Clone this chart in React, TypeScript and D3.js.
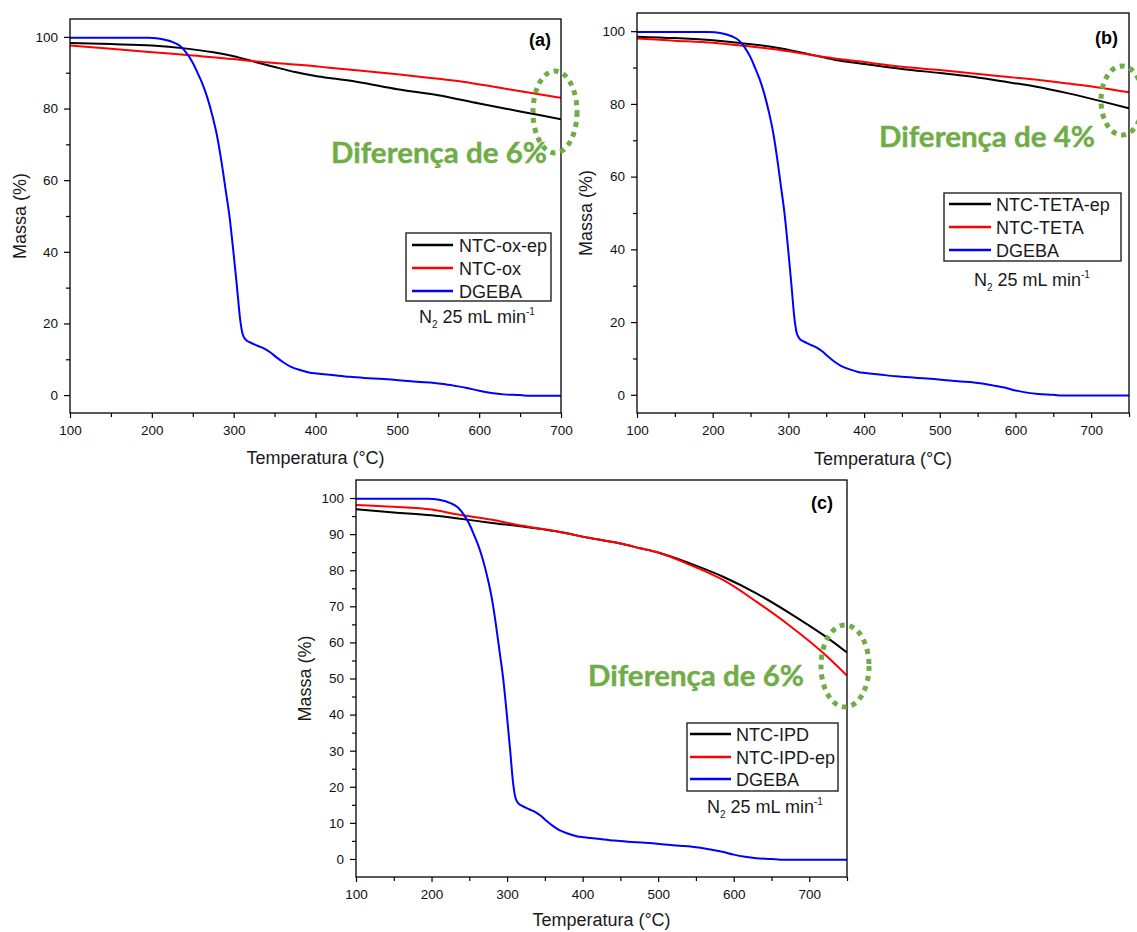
import React, { useEffect, useRef } from "react";
import * as d3 from "d3";

type Pt = [number, number];

// DGEBA resin — the same TGA run is plotted in all three panels
const dgeba: Pt[] = [
  [100, 99.8], [150, 99.8], [195, 99.8], [210, 99.5], [225, 98.6], [235, 97.4],
  [242, 95.6], [250, 92.8], [256, 89.9], [262, 86.8], [268, 82.9], [274, 78.0],
  [280, 72.0], [285, 65.3], [290, 57.6], [295, 49.7], [300, 39.3], [304, 30.3],
  [308, 21.0], [311, 17.0], [315, 15.4], [320, 14.7], [330, 13.7], [338, 12.9],
  [345, 11.9], [352, 10.6], [361, 9.1], [370, 7.9], [381, 7.0], [392, 6.3],
  [402, 6.0], [420, 5.6], [442, 5.1], [460, 4.8], [483, 4.5], [505, 4.1],
  [524, 3.7], [545, 3.4], [556, 3.1], [570, 2.6], [585, 2.0], [600, 1.2],
  [615, 0.6], [630, 0.2], [650, 0.0], [662, -0.2], [700, -0.2], [750, -0.2],
];

// (a) oxidized nanotubes
const ntcOxEp: Pt[] = [
  [100, 98.3], [150, 98.0], [200, 97.6], [240, 96.8], [275, 95.7], [300, 94.6],
  [325, 93.1], [350, 91.6], [375, 90.2], [400, 89.1], [425, 88.3], [450, 87.5],
  [500, 85.4], [550, 83.7], [600, 81.4], [650, 79.2], [700, 77.0],
];
const ntcOx: Pt[] = [
  [100, 97.6], [150, 96.7], [213, 95.5], [250, 94.8], [300, 93.8], [324, 93.2],
  [350, 92.7], [400, 91.8], [417, 91.4], [450, 90.7], [500, 89.6], [550, 88.3],
  [580, 87.5], [620, 86.0], [662, 84.4], [700, 83.0],
];

// (b) TETA-functionalized nanotubes
const ntcTetaEp: Pt[] = [
  [100, 98.5], [150, 98.1], [200, 97.5], [230, 96.9], [283, 95.5], [320, 94.0],
  [362, 92.1], [400, 91.0], [450, 89.6], [500, 88.5], [538, 87.6], [580, 86.3],
  [626, 84.8], [670, 82.9], [714, 80.7], [750, 78.8],
];
const ntcTeta: Pt[] = [
  [100, 98.0], [150, 97.4], [200, 96.8], [230, 96.2], [280, 95.1], [345, 93.0],
  [400, 91.5], [450, 90.2], [500, 89.3], [538, 88.5], [580, 87.6], [626, 86.7],
  [670, 85.6], [714, 84.4], [750, 83.2],
];

// (c) IPD-functionalized nanotubes
const ntcIpd: Pt[] = [
  [100, 96.9], [150, 96.0], [200, 95.2], [233, 94.4], [280, 93.1], [321, 92.1],
  [365, 90.8], [410, 88.9], [450, 87.4], [476, 86.1], [500, 84.9], [542, 81.9],
  [586, 78.2], [630, 73.6], [675, 68.0], [719, 62.0], [750, 57.2],
];
const ntcIpdEp: Pt[] = [
  [100, 98.1], [150, 97.6], [200, 96.8], [233, 95.5], [280, 94.0], [321, 92.3],
  [365, 90.8], [410, 88.9], [450, 87.4], [476, 86.1], [500, 84.9], [542, 81.5],
  [586, 77.3], [630, 71.3], [675, 64.5], [719, 57.0], [750, 50.8],
];

const legendA = ["NTC-ox-ep", "NTC-ox", "DGEBA"];
const legendB = ["NTC-TETA-ep", "NTC-TETA", "DGEBA"];
const legendC = ["NTC-IPD", "NTC-IPD-ep", "DGEBA"];

const xMajor = [100, 200, 300, 400, 500, 600, 700];
const yMajorCoarse = [0, 20, 40, 60, 80, 100];
const yMajorFine = [0, 10, 20, 30, 40, 50, 60, 70, 80, 90, 100];

const SERIES_COLORS = ["#000000", "#ff0000", "#0000ff"];
const GREEN = "#70AD47";
const FONT = "'Liberation Sans', Arial, sans-serif";

interface PanelSpec {
  tag: string;
  left: number;
  right: number;
  top: number;
  bottom: number;
  xMax: number;
  yMajor: number[];
  yStep: number;
  series: Pt[][];
  legend: string[];
  legendBox: { x: number; y: number; w: number; h: number };
  legendRows: number[];
  legendLine: [number, number];
  legendTextX: number;
  gasX: number;
  gasY: number;
  xTitleY: number;
  yTitleX: number;
  tagX: number;
  tagY: number;
  note: string;
  noteX: number;
  noteY: number;
  ring: { cx: number; cy: number; rx: number; ry: number };
}

const panels: PanelSpec[] = [
  {
    tag: "(a)", left: 70, right: 561, top: 19, bottom: 413, xMax: 700,
    yMajor: yMajorCoarse, yStep: 20,
    series: [ntcOxEp, ntcOx, dgeba], legend: legendA,
    legendBox: { x: 406, y: 233, w: 145, h: 68 }, legendRows: [245, 268, 291],
    legendLine: [412, 453], legendTextX: 459, gasX: 419, gasY: 323,
    xTitleY: 464, yTitleX: 26, tagX: 551, tagY: 46,
    note: "Diferença de 6%", noteX: 331, noteY: 163,
    ring: { cx: 555, cy: 112, rx: 22, ry: 41 },
  },
  {
    tag: "(b)", left: 637, right: 1129, top: 13, bottom: 413, xMax: 750,
    yMajor: yMajorCoarse, yStep: 20,
    series: [ntcTetaEp, ntcTeta, dgeba], legend: legendB,
    legendBox: { x: 944, y: 193, w: 177, h: 68 }, legendRows: [204, 227, 250],
    legendLine: [949, 991], legendTextX: 996, gasX: 974, gasY: 286,
    xTitleY: 465, yTitleX: 592, tagX: 1118, tagY: 44,
    note: "Diferença de 4%", noteX: 879, noteY: 147,
    ring: { cx: 1122, cy: 100.5, rx: 21, ry: 34.5 },
  },
  {
    tag: "(c)", left: 356, right: 847, top: 480, bottom: 877, xMax: 750,
    yMajor: yMajorFine, yStep: 10,
    series: [ntcIpd, ntcIpdEp, dgeba], legend: legendC,
    legendBox: { x: 687, y: 723, w: 151, h: 68 }, legendRows: [734, 757, 779],
    legendLine: [690, 731], legendTextX: 736, gasX: 707, gasY: 813,
    xTitleY: 926, yTitleX: 311, tagX: 833, tagY: 509,
    note: "Diferença de 6%", noteX: 588, noteY: 686,
    ring: { cx: 845, cy: 666, rx: 24, ry: 41 },
  },
];

function drawPanel(
  root: d3.Selection<SVGSVGElement, unknown, null, undefined>,
  p: PanelSpec,
  idx: number
) {
  const x = d3.scaleLinear().domain([100, p.xMax]).range([p.left, p.right]);
  const y = d3.scaleLinear().domain([-5, 105]).range([p.bottom, p.top]);
  const g = root.append("g");

  const clipId = `plot-clip-${idx}`;
  root
    .append("defs")
    .append("clipPath")
    .attr("id", clipId)
    .append("rect")
    .attr("x", p.left)
    .attr("y", p.top)
    .attr("width", p.right - p.left)
    .attr("height", p.bottom - p.top);

  const line = d3
    .line<Pt>()
    .x((d) => x(d[0]))
    .y((d) => y(d[1]))
    .curve(d3.curveMonotoneX);

  const curves = g.append("g").attr("clip-path", `url(#${clipId})`);
  p.series.forEach((s, i) => {
    curves
      .append("path")
      .attr("d", line(s.filter((d) => d[0] <= p.xMax)) ?? "")
      .attr("fill", "none")
      .attr("stroke", SERIES_COLORS[i])
      .attr("stroke-width", 2)
      .attr("stroke-linejoin", "round");
  });

  // axes: majors with labels, minors without
  const xMinor = d3.range(150, p.xMax + 1, 100);
  const yMinor = d3.range(p.yStep / 2, 100, p.yStep);

  const styleAxis = (sel: d3.Selection<SVGGElement, unknown, null, undefined>) => {
    sel.select(".domain").remove();
    sel.selectAll("line").attr("stroke", "#000").attr("stroke-width", 1.2);
    sel
      .selectAll("text")
      .attr("font-family", FONT)
      .attr("font-size", 13.5)
      .attr("fill", "#111");
  };

  g.append("g")
    .attr("transform", `translate(0,${p.bottom})`)
    .call(d3.axisBottom(x).tickValues(xMajor).tickSize(5).tickPadding(7).tickFormat(d3.format("d")))
    .call(styleAxis);
  g.append("g")
    .attr("transform", `translate(0,${p.bottom})`)
    .call(d3.axisBottom(x).tickValues(xMinor).tickSize(4).tickFormat(() => ""))
    .call(styleAxis);
  g.append("g")
    .attr("transform", `translate(${p.left},0)`)
    .call(d3.axisLeft(y).tickValues(p.yMajor).tickSize(6).tickPadding(6).tickFormat(d3.format("d")))
    .call(styleAxis);
  g.append("g")
    .attr("transform", `translate(${p.left},0)`)
    .call(d3.axisLeft(y).tickValues(yMinor).tickSize(4).tickFormat(() => ""))
    .call(styleAxis);

  g.append("rect")
    .attr("x", p.left)
    .attr("y", p.top)
    .attr("width", p.right - p.left)
    .attr("height", p.bottom - p.top)
    .attr("fill", "none")
    .attr("stroke", "#000")
    .attr("stroke-width", 1.3);

  // axis titles
  g.append("text")
    .attr("x", (p.left + p.right) / 2)
    .attr("y", p.xTitleY)
    .attr("text-anchor", "middle")
    .attr("font-family", FONT)
    .attr("font-size", 18)
    .attr("fill", "#1a1a1a")
    .text("Temperatura (°C)");
  g.append("text")
    .attr("transform", `translate(${p.yTitleX},${(p.top + p.bottom) / 2}) rotate(-90)`)
    .attr("text-anchor", "middle")
    .attr("font-family", FONT)
    .attr("font-size", 18)
    .attr("fill", "#1a1a1a")
    .text("Massa (%)");

  // panel tag
  g.append("text")
    .attr("x", p.tagX)
    .attr("y", p.tagY)
    .attr("text-anchor", "end")
    .attr("font-family", FONT)
    .attr("font-weight", "bold")
    .attr("font-size", 18)
    .attr("fill", "#000")
    .text(p.tag);

  // legend
  const lb = p.legendBox;
  g.append("rect")
    .attr("x", lb.x)
    .attr("y", lb.y)
    .attr("width", lb.w)
    .attr("height", lb.h)
    .attr("fill", "#fff")
    .attr("stroke", "#222")
    .attr("stroke-width", 1.4);
  p.legend.forEach((name, i) => {
    const ry = p.legendRows[i];
    g.append("line")
      .attr("x1", p.legendLine[0])
      .attr("x2", p.legendLine[1])
      .attr("y1", ry)
      .attr("y2", ry)
      .attr("stroke", SERIES_COLORS[i])
      .attr("stroke-width", 2.5);
    g.append("text")
      .attr("x", p.legendTextX)
      .attr("y", ry + 6.5)
      .attr("font-family", FONT)
      .attr("font-size", 18)
      .attr("fill", "#1a1a1a")
      .text(name);
  });

  // purge gas note
  const gas = g
    .append("text")
    .attr("x", p.gasX)
    .attr("y", p.gasY)
    .attr("font-family", FONT)
    .attr("font-size", 18)
    .attr("fill", "#1a1a1a");
  gas.append("tspan").text("N");
  gas.append("tspan").attr("font-size", 10).attr("dy", 5).text("2");
  gas.append("tspan").attr("dy", -5).text(" 25 mL min");
  gas.append("tspan").attr("font-size", 10).attr("dy", -8).text("-1");

  // highlighted mass difference
  g.append("ellipse")
    .attr("cx", p.ring.cx)
    .attr("cy", p.ring.cy)
    .attr("rx", p.ring.rx)
    .attr("ry", p.ring.ry)
    .attr("fill", "none")
    .attr("stroke", GREEN)
    .attr("stroke-width", 5)
    .attr("stroke-dasharray", "5 5");
  g.append("text")
    .attr("x", p.noteX)
    .attr("y", p.noteY)
    .attr("font-family", "Lato, 'Open Sans', sans-serif")
    .attr("font-weight", "bold")
    .attr("font-size", 28)
    .attr("textLength", 216)
    .attr("lengthAdjust", "spacingAndGlyphs")
    .attr("fill", GREEN)
    .attr("stroke", GREEN)
    .attr("stroke-width", 0.4)
    .text(p.note);
}

export default function App() {
  const ref = useRef<SVGSVGElement | null>(null);

  useEffect(() => {
    if (!ref.current) return;
    const root = d3.select(ref.current);
    root.selectAll("*").remove();
    root.append("rect").attr("width", 1137).attr("height", 932).attr("fill", "#fff");
    panels.forEach((p, i) => drawPanel(root, p, i));
  }, []);

  return (
    <svg
      ref={ref}
      width={1137}
      height={932}
      style={{ position: "absolute", left: 0, top: 0, display: "block" }}
    />
  );
}
